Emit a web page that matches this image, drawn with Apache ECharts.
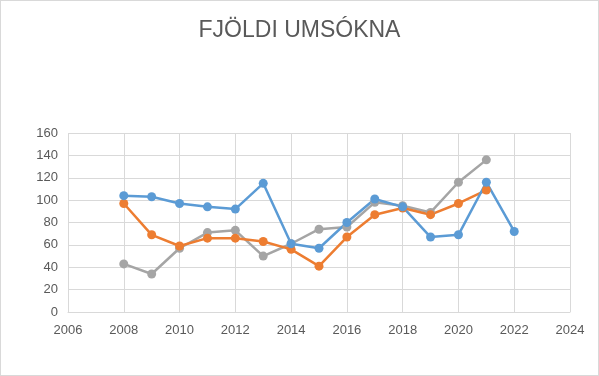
<!DOCTYPE html>
<html>
<head>
<meta charset="utf-8">
<script src="https://cdn.jsdelivr.net/npm/echarts@6/dist/echarts.min.js"></script>
<style>
  html, body { margin: 0; padding: 0; background: #fff; }
  #main { width: 597px; height: 374px; border: 1px solid #d9d9d9; }
</style>
</head>
<body>
<div id="main"></div>
<script>
const years = [2008, 2009, 2010, 2011, 2012, 2013, 2014, 2015, 2016, 2017, 2018, 2019, 2020, 2021, 2022];
const blue = [104, 103, 97, 94, 92, 115, 61, 57, 80, 101, 94, 67, 69, 116, 72];
const orange = [97, 69, 59, 66, 66, 63, 56, 41, 67, 87, 93, 87, 97, 109];
const gray = [43, 34, 57, 71, 73, 50, 61, 74, 76, 98, 95, 89, 116, 136];

const pairs = (vals) => vals.map((v, i) => [years[i], v]);

const myChart = echarts.init(document.getElementById('main'));

const mkSeries = (vals, color) => ({
  type: 'line',
  data: pairs(vals),
  symbol: 'circle',
  symbolSize: 9,
  lineStyle: { width: 2.5, color: color },
  itemStyle: { color: color },
  animation: false,
});

const option = {
  title: {
    text: 'FJÖLDI UMSÓKNA',
    left: 'center',
    top: 13,
    textStyle: { fontFamily: 'Liberation Sans', fontSize: 23, fontWeight: 'normal', color: '#595959' },
  },
  grid: { left: 67, right: 28, top: 132, bottom: 63 },
  xAxis: {
    type: 'value',
    min: 2006,
    max: 2024,
    interval: 2,
    axisLine: { lineStyle: { color: '#d9d9d9' } },
    axisTick: { show: false },
    splitLine: { lineStyle: { color: '#d9d9d9' } },
    axisLabel: {
      color: '#595959', fontSize: 13, fontFamily: 'Liberation Sans', margin: 12,
      formatter: (v) => String(v),
    },
  },
  yAxis: {
    type: 'value',
    min: 0,
    max: 160,
    interval: 20,
    axisLine: { show: false },
    axisTick: { show: false },
    splitLine: { lineStyle: { color: '#d9d9d9' } },
    axisLabel: { color: '#595959', fontSize: 13, fontFamily: 'Liberation Sans', margin: 10 },
  },
  series: [
    mkSeries(gray, '#a5a5a5'),
    mkSeries(orange, '#ed7d31'),
    mkSeries(blue, '#5b9bd5'),
  ],
};

myChart.setOption(option);
</script>
</body>
</html>
